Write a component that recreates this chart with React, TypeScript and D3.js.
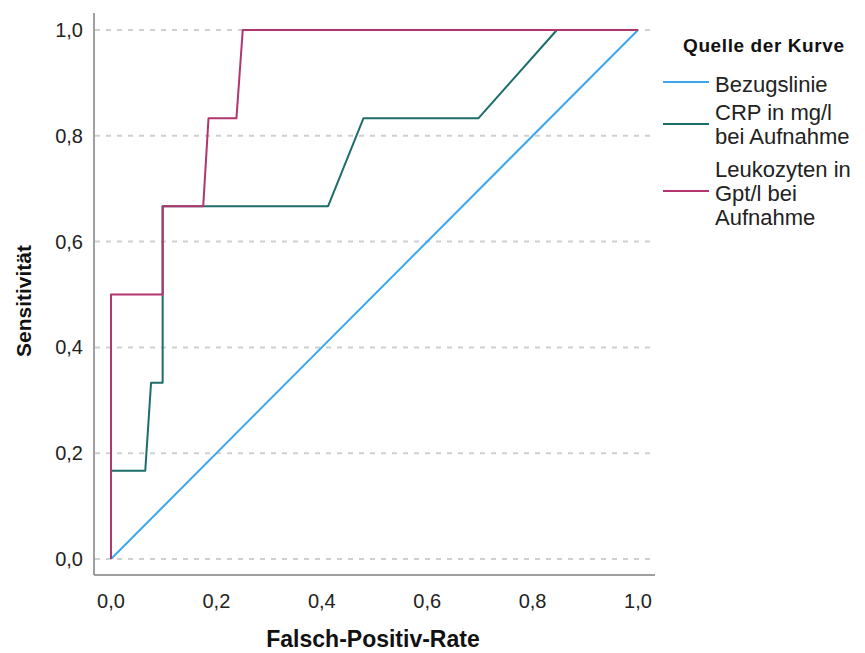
import React from "react";
import * as d3 from "d3";

// ROC points (Falsch-Positiv-Rate, Sensitivität)
const bezugslinie: [number, number][] = [[0, 0], [1, 1]];
const crp: [number, number][] = [
  [0, 0], [0, 0.167], [0.065, 0.167], [0.076, 0.333], [0.098, 0.333],
  [0.098, 0.667], [0.412, 0.667], [0.479, 0.833], [0.697, 0.833],
  [0.846, 1], [1, 1],
];
const leukozyten: [number, number][] = [
  [0, 0], [0, 0.5], [0.098, 0.5], [0.098, 0.667], [0.175, 0.667],
  [0.185, 0.833], [0.238, 0.833], [0.25, 1], [1, 1],
];
const ticks = [0, 0.2, 0.4, 0.6, 0.8, 1.0];
const legendTitle = "Quelle der Kurve";
const series = [
  { name: ["Bezugslinie"], data: bezugslinie, color: "#3ba7ee" },
  { name: ["CRP in mg/l", "bei Aufnahme"], data: crp, color: "#1d6e6b" },
  { name: ["Leukozyten in", "Gpt/l bei", "Aufnahme"], data: leukozyten, color: "#b3346f" },
];

const fmt = (v: number) => d3.format(".1f")(v).replace(".", ",");

export default function App() {
  const width = 865, height = 653;
  const x = d3.scaleLinear().domain([0, 1]).range([111, 638]);
  const y = d3.scaleLinear().domain([0, 1]).range([559, 30]);
  const line = d3.line<[number, number]>().x(d => x(d[0])).y(d => y(d[1]));

  const axisLeft = 94, axisBottom = 575;
  const font = "Arial, 'Liberation Sans', sans-serif";

  // legend rows: first baseline and the y of the swatch line
  const legendRows = [
    { baseline: 92, lineY: 82 },
    { baseline: 120, lineY: 124 },
    { baseline: 177, lineY: 191 },
  ];

  return (
    <svg width={width} height={height} style={{ position: "absolute", left: 0, top: 0, background: "#fff" }}
      fontFamily={font}>
      {/* grid */}
      {ticks.map(t => (
        <line key={"g" + t} x1={axisLeft + 1} x2={652} y1={y(t)} y2={y(t)}
          stroke="#cfcfcf" strokeWidth={2} strokeDasharray="5,6" />
      ))}
      {/* axes */}
      <line x1={axisLeft} x2={axisLeft} y1={13} y2={axisBottom} stroke="#808080" strokeWidth={1.5} />
      <line x1={axisLeft} x2={655} y1={axisBottom} y2={axisBottom} stroke="#808080" strokeWidth={1.5} />
      {/* tick labels */}
      {ticks.map(t => (
        <text key={"y" + t} x={83} y={y(t) + 7} textAnchor="end" fontSize={20} fill="#222">{fmt(t)}</text>
      ))}
      {ticks.map(t => (
        <text key={"x" + t} x={x(t)} y={608} textAnchor="middle" fontSize={20} fill="#222">{fmt(t)}</text>
      ))}
      {/* curves */}
      {series.map(s => (
        <path key={s.name[0]} d={line(s.data) || ""} fill="none" stroke={s.color} strokeWidth={2}
          strokeLinejoin="round" />
      ))}
      {/* axis titles */}
      <text x={373} y={647} textAnchor="middle" fontSize={23} fontWeight="bold" fill="#111">Falsch-Positiv-Rate</text>
      <text transform="translate(31,301) rotate(-90)" textAnchor="middle" fontSize={21} fontWeight="bold" fill="#111">Sensitivität</text>
      {/* legend */}
      <text x={683} y={52} fontSize={19} fontWeight="bold" letterSpacing={0.6} fill="#111">{legendTitle}</text>
      {series.map((s, i) => (
        <g key={"l" + i}>
          <line x1={663} x2={709} y1={legendRows[i].lineY} y2={legendRows[i].lineY} stroke={s.color} strokeWidth={2} />
          {s.name.map((n, j) => (
            <text key={j} x={715} y={legendRows[i].baseline + j * 24} fontSize={22} fill="#222">{n}</text>
          ))}
        </g>
      ))}
    </svg>
  );
}
